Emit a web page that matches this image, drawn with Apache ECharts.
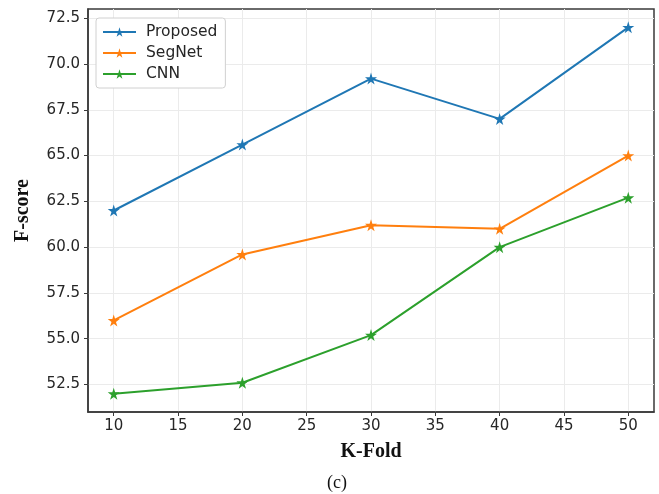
<!DOCTYPE html>
<html>
<head>
<meta charset="utf-8">
<script src="https://cdn.jsdelivr.net/npm/echarts@6/dist/echarts.min.js"></script>
<style>
  html, body { margin: 0; padding: 0; background: #fff; }
  #chart { width: 659px; height: 494px; }
</style>
</head>
<body>
<div id="chart"></div>
<script>
// data
var kFold = [10, 20, 30, 40, 50];
var proposed = [62.0, 65.6, 69.2, 67.0, 72.0];
var segNet = [56.0, 59.6, 61.2, 61.0, 65.0];
var cnn = [52.0, 52.6, 55.2, 60.0, 62.7];
var xTicks = [10, 15, 20, 25, 30, 35, 40, 45, 50];
var yTicks = [52.5, 55.0, 57.5, 60.0, 62.5, 65.0, 67.5, 70.0, 72.5];

var star = 'path://M50,0 L61,35 L98,35 L68,57 L79,91 L50,70 L21,91 L32,57 L2,35 L39,35 Z';

function pairs(ys) {
    return kFold.map(function (k, i) { return [k, ys[i]]; });
}

function mkSeries(name, ys, color) {
    return {
        name: name,
        type: 'line',
        data: pairs(ys),
        symbol: star,
        symbolSize: 12,
        showAllSymbol: true,
        lineStyle: { color: color, width: 2 },
        itemStyle: { color: color },
        emphasis: { disabled: true },
        z: 3
    };
}

var chart = echarts.init(document.getElementById('chart'));
var tickFont = { fontFamily: 'DejaVu Sans', fontSize: 15, color: '#262626' };

var option = {
    animation: false,
    grid: {
        left: 88, right: 5, top: 9, bottom: 82,
        show: true, borderColor: '#3a3a3a', borderWidth: 1.5
    },
    legend: {
        orient: 'vertical',
        left: 96, top: 18,
        itemWidth: 33, itemHeight: 12,
        itemGap: 5,
        padding: [6, 8, 6, 6],
        backgroundColor: '#fff',
        borderColor: '#d0d0d0',
        borderWidth: 1,
        borderRadius: 3,
        textStyle: { fontFamily: 'DejaVu Sans', fontSize: 15.5, color: '#262626', padding: [0, 0, 0, 5] },
        data: ['Proposed', 'SegNet', 'CNN']
    },
    xAxis: {
        type: 'value',
        min: 8, max: 52,
        name: 'K-Fold',
        nameLocation: 'middle',
        nameGap: 30,
        nameTextStyle: { fontFamily: 'Liberation Serif', fontSize: 20, fontWeight: 'bold', color: '#111', verticalAlign: 'top' },
        axisLine: { lineStyle: { color: '#3a3a3a', width: 1.5 } },
        axisTick: { show: true, customValues: xTicks, length: 4, lineStyle: { color: '#3a3a3a' } },
        axisLabel: Object.assign({ customValues: xTicks, margin: 7 }, tickFont),
        splitLine: { show: true, lineStyle: { color: '#ebebeb', width: 1 } }
    },
    yAxis: {
        type: 'value',
        min: 51, max: 73,
        name: 'F-score',
        nameLocation: 'middle',
        nameGap: 55,
        nameTextStyle: { fontFamily: 'Liberation Serif', fontSize: 20, fontWeight: 'bold', color: '#111' },
        axisLine: { show: true, lineStyle: { color: '#3a3a3a', width: 1.5 } },
        axisTick: { show: true, customValues: yTicks, length: 4, lineStyle: { color: '#3a3a3a' } },
        axisLabel: Object.assign({
            customValues: yTicks, margin: 8,
            formatter: function (v) { return v.toFixed(1); }
        }, tickFont),
        splitLine: { show: true, lineStyle: { color: '#ebebeb', width: 1 } }
    },
    graphic: [{
        type: 'text',
        left: 327, top: 474,
        style: { text: '(c)', font: '18px "Liberation Serif"', fill: '#111' }
    }],
    series: [
        mkSeries('Proposed', proposed, '#1f77b4'),
        mkSeries('SegNet', segNet, '#ff7f0e'),
        mkSeries('CNN', cnn, '#2ca02c')
    ]
};
chart.setOption(option);
</script>
</body>
</html>
